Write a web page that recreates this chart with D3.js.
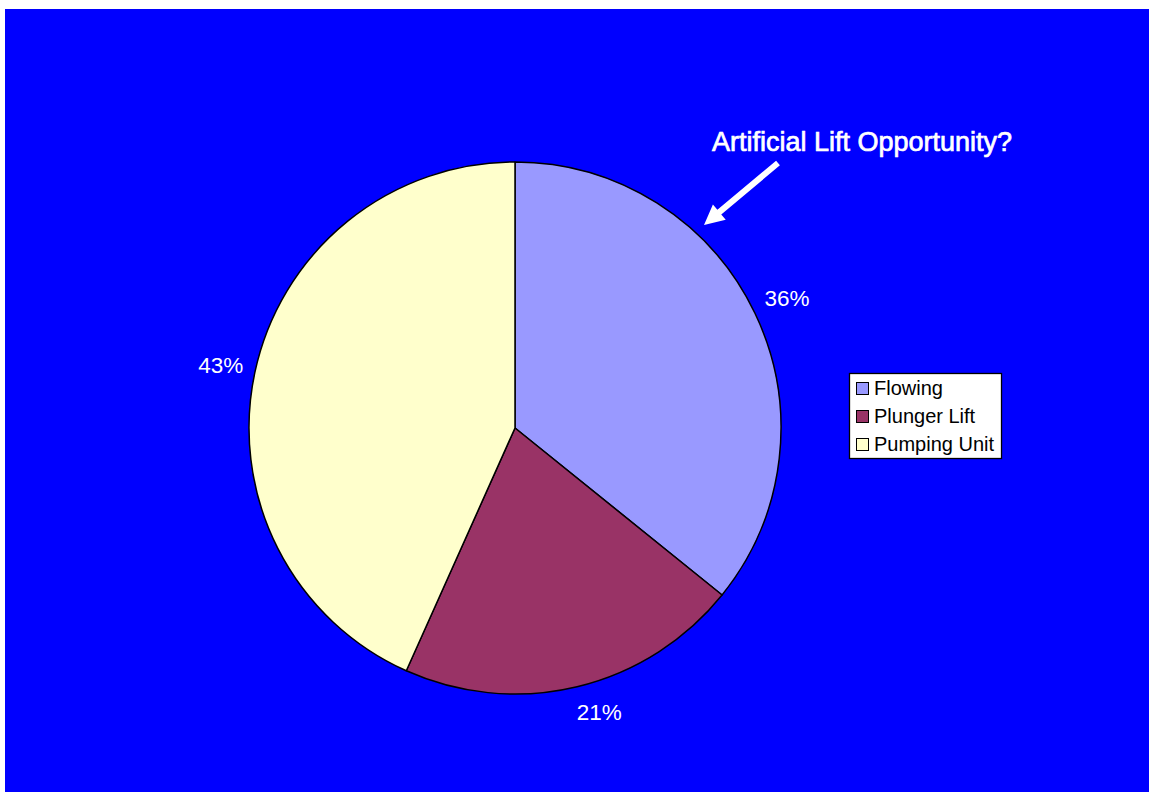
<!DOCTYPE html>
<html>
<head>
<meta charset="utf-8">
<script src="https://cdn.jsdelivr.net/npm/d3@7"></script>
<style>
  html, body { margin: 0; padding: 0; background: #ffffff; }
  svg { display: block; }
  text { font-family: "Liberation Sans", Arial, sans-serif; }
</style>
</head>
<body>
<svg id="chart" width="1149" height="792"></svg>
<script>
const categories = ["Flowing", "Plunger Lift", "Pumping Unit"];
const values = [35.8, 20.9, 43.3];
const valueLabels = ["36%", "21%", "43%"];
const colors = ["#9999FF", "#993366", "#FFFFCC"];
const annotation = "Artificial Lift Opportunity?";

const W = 1149, H = 792;
const svg = d3.select("#chart");

// background
svg.append("rect").attr("x", 5).attr("y", 9).attr("width", W - 5).attr("height", H - 9).attr("fill", "#0000FF");

const cx = 515, cy = 428, R = 266;
const g = svg.append("g").attr("transform", `translate(${cx},${cy})`);

const pie = d3.pie().sort(null).value(d => d.v).startAngle(0).endAngle(2 * Math.PI);
const data = categories.map((c, i) => ({ c, v: values[i], label: valueLabels[i], color: colors[i] }));
const arcs = pie(data);
const arc = d3.arc().innerRadius(0).outerRadius(R);

g.selectAll("path.slice").data(arcs).enter().append("path")
  .attr("class", "slice")
  .attr("d", arc)
  .attr("fill", d => d.data.color)
  .attr("stroke", "#000")
  .attr("stroke-width", 1.5)
  .attr("stroke-linejoin", "round");

// labels placed with a fixed gap from the pie edge
const fs = 22.5, gap = 10, hw = 23, hh = 11;
function labelPos(d) {
  const a = (d.startAngle + d.endAngle) / 2;
  const ext = Math.abs(hw * Math.sin(a)) + Math.abs(hh * Math.cos(a));
  const r = R + gap + ext;
  // lower labels drift toward the horizontal side, as in the source chart
  const shift = Math.cos(a) < -0.9 ? -Math.sign(Math.sin(a) || 1) * 0 + 16 * Math.sign(Math.sin(a) || 1) : 0;
  return [r * Math.sin(a) + shift, -r * Math.cos(a)];
}
g.selectAll("text.lbl").data(arcs).enter().append("text")
  .attr("class", "lbl")
  .attr("text-anchor", "middle")
  .attr("font-size", fs)
  .attr("fill", "#fff")
  .attr("x", d => labelPos(d)[0])
  .attr("y", d => labelPos(d)[1] + fs * 0.36)
  .text(d => d.data.label);

// annotation
svg.append("text")
  .attr("x", 712).attr("y", 151)
  .attr("font-size", 27)
  .attr("fill", "#fff")
  .attr("stroke", "#fff")
  .attr("stroke-width", 0.7)
  .text(annotation);

// arrow
(function () {
  const x1 = 778, y1 = 163, x2 = 704, y2 = 225;
  const dx = x2 - x1, dy = y2 - y1, L = Math.hypot(dx, dy);
  const ux = dx / L, uy = dy / L, px = -uy, py = ux;
  const sw = 3, hl = 20, hwid = 10;
  const bx = x2 - ux * hl, by = y2 - uy * hl;
  const pts = [
    [x1 + px * sw, y1 + py * sw],
    [bx + px * sw, by + py * sw],
    [bx + px * hwid, by + py * hwid],
    [x2, y2],
    [bx - px * hwid, by - py * hwid],
    [bx - px * sw, by - py * sw],
    [x1 - px * sw, y1 - py * sw]
  ];
  svg.append("polygon").attr("points", pts.map(p => p.join(",")).join(" ")).attr("fill", "#fff");
})();

// legend
const lg = svg.append("g").attr("transform", "translate(849.5,373.5)");
lg.append("rect").attr("width", 152).attr("height", 85).attr("fill", "#fff").attr("stroke", "#000").attr("stroke-width", 1.3);
const rows = lg.selectAll("g.row").data(data).enter().append("g")
  .attr("class", "row")
  .attr("transform", (d, i) => `translate(0,${i * 28})`);
rows.append("rect").attr("x", 7).attr("y", 9).attr("width", 12).attr("height", 12)
  .attr("fill", d => d.color).attr("stroke", "#000").attr("stroke-width", 1);
rows.append("text").attr("x", 24.5).attr("y", 21.5).attr("font-size", 20).attr("fill", "#000").text(d => d.c);
</script>
</body>
</html>
